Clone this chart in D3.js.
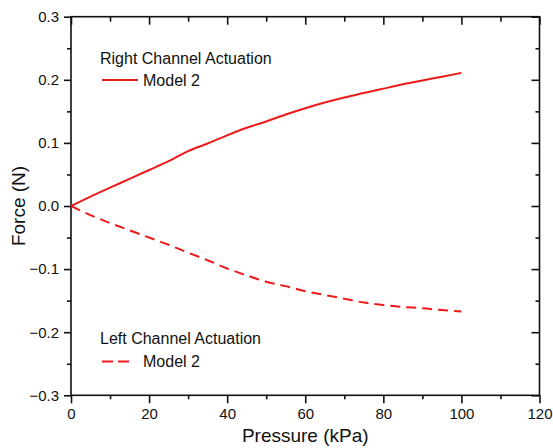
<!DOCTYPE html>
<html>
<head>
<meta charset="utf-8">
<script src="https://d3js.org/d3.v7.min.js"></script>
<style>
  body { margin: 0; background: #fff; }
  svg { font-family: "Liberation Sans", Arial, sans-serif; }
</style>
</head>
<body>
<div id="chart"></div>
<script>
// pressure (kPa) sampled every 5 kPa
var pressure = [0, 5, 10, 15, 20, 25, 30, 35, 40, 45, 50, 55, 60, 65, 70, 75, 80, 85, 90, 95, 100];
// Right Channel Actuation - Model 2 (N)
var rightForce = [0, 0.015, 0.029, 0.043, 0.057, 0.071, 0.087, 0.099, 0.112, 0.124, 0.134,
                  0.145, 0.155, 0.164, 0.172, 0.179, 0.186, 0.193, 0.199, 0.205, 0.211];
// Left Channel Actuation - Model 2 (N)
var leftForce = [0, -0.0145, -0.027, -0.0385, -0.050, -0.0615, -0.074, -0.086, -0.099, -0.110, -0.120,
                 -0.127, -0.135, -0.141, -0.147, -0.153, -0.157, -0.160, -0.162, -0.165, -0.167];

var xTicks = [0, 20, 40, 60, 80, 100, 120];
var yTicks = [-0.3, -0.2, -0.1, 0.0, 0.1, 0.2, 0.3];
var legendTitles = ["Right Channel Actuation", "Left Channel Actuation"];
var seriesName = "Model 2";

function init() {
    var w = 553, h = 448;
    var left = 71, right = 539.5, top = 16.7, bottom = 395.3;
    var red = "#ee1a1a";

    var xScale = d3.scaleLinear().domain([0, 120]).range([left, right]);
    var yScale = d3.scaleLinear().domain([-0.3, 0.3]).range([bottom, top]);

    var svg = d3.select("#chart").append("svg")
        .attr("width", w)
        .attr("height", h);

    var xMinor = d3.range(0, 121, 10).filter(function(d) { return d % 20 !== 0; });
    var yMinor = [-0.25, -0.15, -0.05, 0.05, 0.15, 0.25];

    // bottom axis (outward ticks + labels)
    var gx = svg.append("g")
        .attr("transform", "translate(0," + bottom + ")")
        .call(d3.axisBottom(xScale).tickValues(xTicks).tickSize(8).tickPadding(5)
            .tickFormat(d3.format("d")));
    svg.append("g")
        .attr("transform", "translate(0," + bottom + ")")
        .call(d3.axisBottom(xScale).tickValues(xMinor).tickSize(4).tickFormat(""));

    // left axis
    var gy = svg.append("g")
        .attr("transform", "translate(" + left + ",0)")
        .call(d3.axisLeft(yScale).tickValues(yTicks).tickSize(7).tickPadding(5)
            .tickFormat(d3.format(".1f")));
    svg.append("g")
        .attr("transform", "translate(" + left + ",0)")
        .call(d3.axisLeft(yScale).tickValues(yMinor).tickSize(4).tickFormat(""));

    // top axis (inward ticks)
    svg.append("g")
        .attr("transform", "translate(0," + top + ")")
        .call(d3.axisTop(xScale).tickValues(xTicks).tickSize(-8).tickFormat(""));
    svg.append("g")
        .attr("transform", "translate(0," + top + ")")
        .call(d3.axisTop(xScale).tickValues(xMinor).tickSize(-5).tickFormat(""));

    // right axis (inward ticks)
    svg.append("g")
        .attr("transform", "translate(" + right + ",0)")
        .call(d3.axisRight(yScale).tickValues(yTicks).tickSize(-8).tickFormat(""));
    svg.append("g")
        .attr("transform", "translate(" + right + ",0)")
        .call(d3.axisRight(yScale).tickValues(yMinor).tickSize(-4).tickFormat(""));

    svg.selectAll(".domain").remove();
    svg.selectAll(".tick line").attr("stroke", "#111").attr("stroke-width", 1.6);
    svg.selectAll(".tick text").attr("font-size", "15px").attr("fill", "#111")
        .attr("font-family", "'Liberation Sans', Arial, sans-serif");

    // frame
    svg.append("rect")
        .attr("x", left).attr("y", top)
        .attr("width", right - left).attr("height", bottom - top)
        .attr("fill", "none").attr("stroke", "#111").attr("stroke-width", 1.6);

    // lines
    var line = d3.line()
        .x(function(d) { return xScale(d[0]); })
        .y(function(d) { return yScale(d[1]); })
        .curve(d3.curveMonotoneX);

    svg.append("path")
        .datum(pressure.map(function(p, i) { return [p, rightForce[i]]; }))
        .attr("d", line)
        .attr("fill", "none").attr("stroke", red).attr("stroke-width", 2);

    svg.append("path")
        .datum(pressure.map(function(p, i) { return [p, leftForce[i]]; }))
        .attr("d", line)
        .attr("fill", "none").attr("stroke", red).attr("stroke-width", 2)
        .attr("stroke-dasharray", "10,6");

    // legends
    var lg = svg.append("g").attr("font-size", "16px").attr("fill", "#111");
    lg.append("text").attr("x", 100).attr("y", 63.5).text(legendTitles[0]);
    lg.append("line").attr("x1", 102).attr("x2", 138).attr("y1", 80).attr("y2", 80)
        .attr("stroke", red).attr("stroke-width", 2);
    lg.append("text").attr("x", 143).attr("y", 86).text(seriesName);

    lg.append("text").attr("x", 100).attr("y", 343.5).text(legendTitles[1]);
    lg.append("line").attr("x1", 102).attr("x2", 129).attr("y1", 361.5).attr("y2", 361.5)
        .attr("stroke", red).attr("stroke-width", 2).attr("stroke-dasharray", "11,5");
    lg.append("text").attr("x", 143).attr("y", 367).text(seriesName);

    // axis titles
    svg.append("text")
        .attr("x", (left + right) / 2)
        .attr("y", 442)
        .attr("text-anchor", "middle")
        .attr("font-size", "19px")
        .attr("fill", "#111")
        .text("Pressure (kPa)");

    svg.append("text")
        .attr("transform", "translate(25," + ((top + bottom) / 2) + ") rotate(-90)")
        .attr("text-anchor", "middle")
        .attr("font-size", "19px")
        .attr("fill", "#111")
        .text("Force (N)");
}

window.onload = init;
</script>
</body>
</html>
